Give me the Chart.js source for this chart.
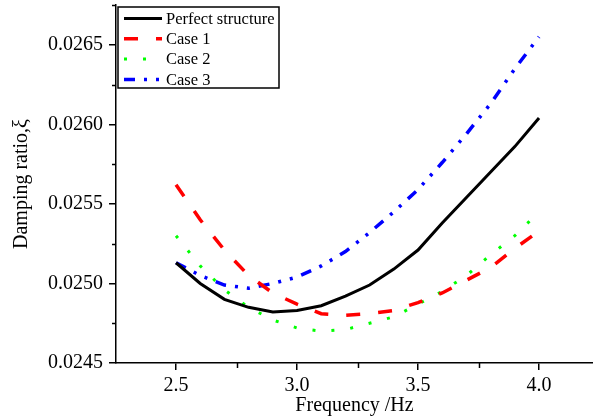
<!DOCTYPE html>
<html>
<head>
<meta charset="utf-8">
<script src="https://cdn.jsdelivr.net/npm/chart.js@4"></script>
<style>
  html, body { margin: 0; padding: 0; background: #fff; }
  #wrap { width: 593px; height: 418px; }
</style>
</head>
<body>
<div id="wrap"><canvas id="chart" width="593" height="418"></canvas></div>
<script>
// ── Data ──
const frequency = [2.5, 2.6, 2.7, 2.8, 2.9, 3.0, 3.1, 3.2, 3.3, 3.4, 3.5, 3.6, 3.7, 3.8, 3.9, 4.0];
const perfect = [0.02513, 0.02500, 0.02490, 0.02485, 0.02482, 0.02483, 0.02486, 0.02492, 0.02499, 0.02509, 0.02521, 0.02538, 0.02554, 0.02570, 0.02586, 0.02604];
const case1   = [0.02562, 0.02540, 0.02521, 0.02505, 0.02494, 0.02487, 0.02481, 0.02480, 0.02481, 0.02483, 0.02488, 0.02494, 0.02502, 0.02510, 0.02522, 0.02533];
const case2   = [0.02530, 0.02511, 0.02496, 0.02485, 0.02477, 0.02472, 0.02470, 0.02471, 0.02475, 0.02479, 0.02487, 0.02495, 0.02505, 0.02518, 0.02530, 0.02545];
const case3   = [0.02513, 0.02505, 0.02499, 0.02497, 0.02500, 0.02504, 0.02511, 0.02520, 0.02532, 0.02545, 0.02559, 0.02576, 0.02594, 0.02613, 0.02635, 0.02655];

const seriesNames = ['Perfect structure', 'Case 1', 'Case 2', 'Case 3'];
const xTicks = [2.5, 3.0, 3.5, 4.0];
const xMinorTicks = [2.75, 3.25, 3.75];
const yTicks = [0.0245, 0.0250, 0.0255, 0.0260, 0.0265];
const yMinorTicks = [0.02475, 0.02525, 0.02575, 0.02625, 0.02675];

const FONT = '"Liberation Serif", "Times New Roman", serif';

function pts(ys) {
    return frequency.map((x, i) => ({ x, y: ys[i] }));
}

// ── minor ticks + boxed legend ──
const extras = {
    id: 'extras',
    afterDraw(chart) {
        const ctx = chart.ctx;
        const xs = chart.scales.x, ys = chart.scales.y;
        const area = chart.chartArea;
        ctx.save();
        ctx.strokeStyle = '#000';
        ctx.lineWidth = 1.5;
        ctx.beginPath();
        xMinorTicks.forEach(v => {
            const px = Math.round(xs.getPixelForValue(v)) + 0.5;
            ctx.moveTo(px, area.bottom);
            ctx.lineTo(px, area.bottom + 5);
        });
        yMinorTicks.forEach(v => {
            const py = Math.round(ys.getPixelForValue(v)) + 0.5;
            ctx.moveTo(area.left, py);
            ctx.lineTo(area.left - 4, py);
        });
        ctx.stroke();

        // legend
        const lx = 118, ly = 7, lw = 161, lh = 81;
        ctx.fillStyle = '#fff';
        ctx.fillRect(lx, ly, lw, lh);
        ctx.lineWidth = 1.5;
        ctx.strokeStyle = '#000';
        ctx.strokeRect(lx, ly, lw, lh);
        ctx.font = '16.5px ' + FONT;
        ctx.textBaseline = 'middle';
        chart.data.datasets.forEach((ds, i) => {
            const y = 18.5 + i * 20.3;
            ctx.beginPath();
            ctx.setLineDash(ds.borderDash || []);
            ctx.lineWidth = ds.borderWidth;
            ctx.strokeStyle = ds.borderColor;
            ctx.moveTo(124, y);
            ctx.lineTo(162, y);
            ctx.stroke();
            ctx.setLineDash([]);
            ctx.fillStyle = '#000';
            ctx.fillText(ds.label, 166, y + 1);
        });
        ctx.restore();
    }
};

new Chart(document.getElementById('chart'), {
    type: 'line',
    data: {
        datasets: [
            { label: seriesNames[0], data: pts(perfect), borderColor: '#000000', borderWidth: 3, borderDash: [] },
            { label: seriesNames[1], data: pts(case1),   borderColor: '#ff0000', borderWidth: 3.5, borderDash: [14, 18] },
            { label: seriesNames[2], data: pts(case2),   borderColor: '#00ff00', borderWidth: 3, borderDash: [3, 16] },
            { label: seriesNames[3], data: pts(case3),   borderColor: '#0000ff', borderWidth: 3.5, borderDash: [11, 9, 3, 9, 3, 9] }
        ].map(d => Object.assign(d, { pointRadius: 0, fill: false, tension: 0, borderCapStyle: 'butt' }))
    },
    options: {
        responsive: false,
        animation: false,
        devicePixelRatio: 1,
        layout: { padding: { top: 5, right: 0, left: 0, bottom: 0 } },
        plugins: { legend: { display: false }, tooltip: { enabled: false } },
        scales: {
            x: {
                type: 'linear',
                min: 2.252,
                max: 4.223,
                afterBuildTicks: s => { s.ticks = xTicks.map(v => ({ value: v })); },
                afterFit: s => { s.height = 55; s.paddingLeft = 0; s.paddingRight = 0; },
                grid: { drawOnChartArea: false, drawTicks: true, tickLength: 7, color: '#000', lineWidth: 1.5 },
                border: { display: true, color: '#000', width: 1.5 },
                ticks: {
                    color: '#000', padding: 4, maxRotation: 0,
                    font: { family: FONT, size: 20 },
                    callback: v => v.toFixed(1)
                },
                title: {
                    display: true, text: 'Frequency /Hz', color: '#000',
                    font: { family: FONT, size: 20 }, padding: { top: 0, bottom: 0 }
                }
            },
            y: {
                type: 'linear',
                min: 0.0245,
                max: 0.02675,
                afterBuildTicks: s => { s.ticks = yTicks.map(v => ({ value: v })); },
                afterFit: s => { s.width = 116; s.paddingTop = 0; s.paddingBottom = 0; },
                grid: { drawOnChartArea: false, drawTicks: true, tickLength: 7, color: '#000', lineWidth: 1.5 },
                border: { display: true, color: '#000', width: 1.5 },
                ticks: {
                    color: '#000', padding: 6,
                    font: { family: FONT, size: 20 },
                    callback: v => v.toFixed(4)
                },
                title: {
                    display: true, text: 'Damping ratio,ξ', color: '#000',
                    font: { family: FONT, size: 20 }, padding: { top: 10, bottom: 0 }
                }
            }
        }
    },
    plugins: [extras]
});
</script>
</body>
</html>
